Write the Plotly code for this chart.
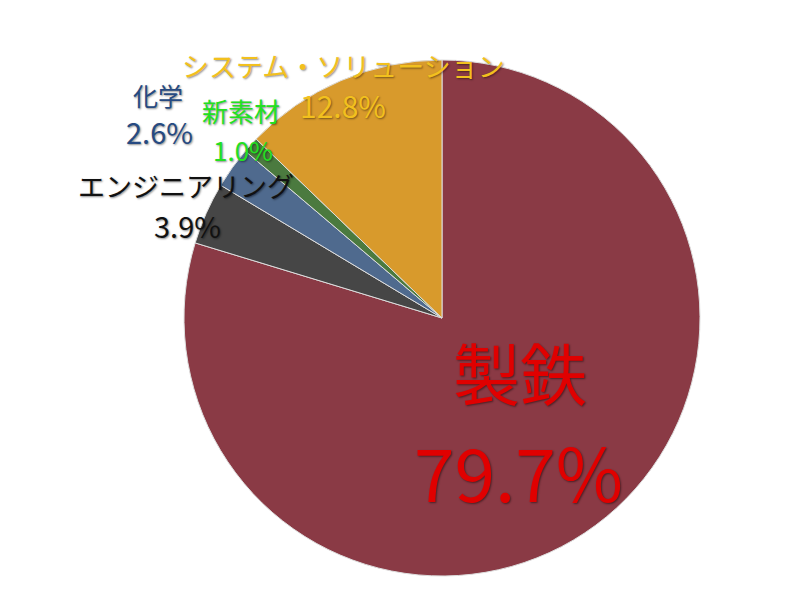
import plotly.graph_objects as go

# Segment shares (%), clockwise from 12 o'clock
segments = ['製鉄', 'エンジニアリング', '化学', '新素材', 'システム・ソリューション']
shares = [79.7, 3.9, 2.6, 1.0, 12.8]
slice_colors = ['#8a3a45', '#464646', '#4f6a8e', '#4b7a3f', '#d89a2c']
text_colors = ['#e00000', '#111111', '#264a82', '#22e022', '#f2c01e']

W, H = 784, 584  # page body has an 8px margin


def paper(px, py):
    # window pixel -> paper coords
    return (px - 8) / W, 1 - (py - 8) / H


x0, y0 = paper(184, 60)
x1, y1 = paper(700, 576)

fig = go.Figure(go.Pie(
    labels=segments,
    values=shares,
    sort=False,
    direction='clockwise',
    rotation=0,
    marker=dict(colors=slice_colors, line=dict(color='#dddddd', width=1)),
    textinfo='none',
    hoverinfo='label+percent',
    showlegend=False,
    domain=dict(x=[x0, x1], y=[y1, y0]),
))

# label placement in window pixels: name (x, y, size), value (x, y, size)
label_pos = {
    '製鉄': ((520, 370, 67), (518, 470, 73)),
    'エンジニアリング': ((186, 185, 27), (187, 225, 29)),
    '化学': ((158, 95, 25), (159, 131, 29)),
    '新素材': ((241, 111, 26), (243, 150, 26)),
    'システム・ソリューション': ((343, 65, 27), (343, 105, 30)),
}

font_family = 'Noto Sans CJK JP, Noto Sans, sans-serif'
shadow = '1px 1px 2px rgba(0,0,0,0.45)'
for name, share, color in zip(segments, shares, text_colors):
    (nx, ny, ns), (vx, vy, vs) = label_pos[name]
    for text, px, py, size in [(name, nx, ny, ns), (f'{share:.1f}%', vx, vy, vs)]:
        ax, ay = paper(px, py)
        fig.add_annotation(x=ax, y=ay, xref='paper', yref='paper', text=text,
                           showarrow=False, xanchor='center', yanchor='middle',
                           borderpad=0,
                           font=dict(family=font_family, size=size, color=color,
                                     shadow=shadow))

fig.update_layout(
    width=W, height=H,
    margin=dict(l=0, r=0, t=0, b=0),
    paper_bgcolor='white',
    plot_bgcolor='white',
)

fig.write_html('out.html')
